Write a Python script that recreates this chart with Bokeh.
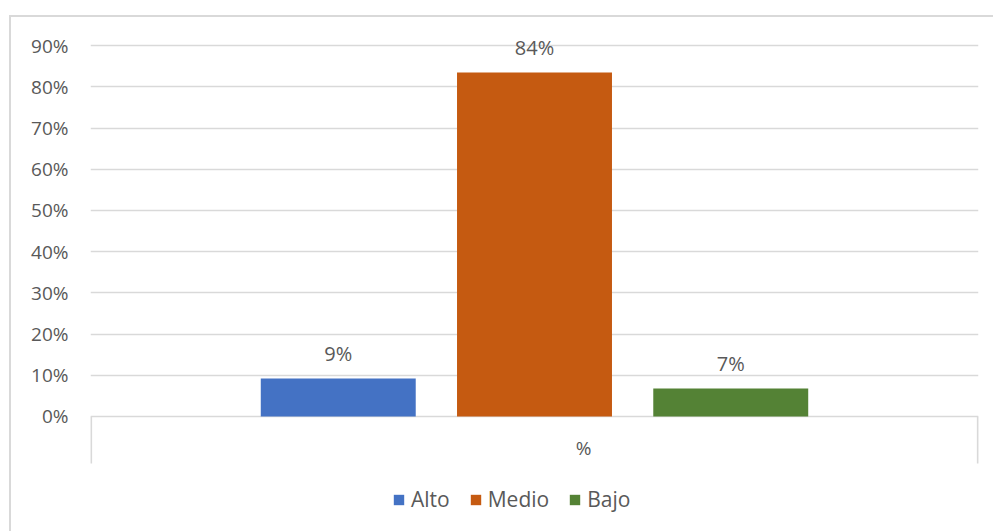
from bokeh.plotting import figure
from bokeh.models import FactorRange, Range1d, FixedTicker, ColumnDataSource, Legend, LegendItem
from bokeh.transform import dodge
from bokeh.core.properties import value
from bokeh.embed import file_html
from bokeh.resources import INLINE

# ---- data ----
category = ["%"]
series = ["Alto", "Medio", "Bajo"]
values = [9.2, 83.5, 6.8]
value_labels = ["9%", "84%", "7%"]
y_ticks = [0, 10, 20, 30, 40, 50, 60, 70, 80, 90]
y_tick_labels = ["0%", "10%", "20%", "30%", "40%", "50%", "60%", "70%", "80%", "90%"]

# ---- style ----
colors = ["#4472C4", "#C55A11", "#548235"]
offsets = [-0.221, 0.0, 0.221]
bar_width = 0.1745
FONT = "Open Sans"
TEXT = "#595959"
GRID = "#d9d9d9"
AXIS_DEPTH = 11.4

p = figure(width=984, height=516,
           x_range=FactorRange(factors=category, range_padding=0),
           y_range=Range1d(-28.4, 96.1),
           output_backend="svg", toolbar_location=None,
           min_border_left=79, min_border_right=17,
           min_border_top=3, min_border_bottom=0)
p.styles = {"margin-left": "9px", "margin-top": "15px",
            "border-left": "2px solid #d9d9d9", "border-top": "2px solid #d9d9d9"}

renderers = []
for i, s in enumerate(series):
    src = ColumnDataSource(dict(x=category, top=[values[i]], label=[value_labels[i]]))
    r = p.vbar(x=dodge("x", offsets[i], range=p.x_range), top="top", width=bar_width,
               source=src, fill_color=colors[i], line_color=None)
    renderers.append(r)
    p.text(x=dodge("x", offsets[i], range=p.x_range), y="top", text="label", source=src,
           text_align="center", text_baseline="middle", y_offset=-25,
           text_font=value(FONT), text_font_size="20px", text_color=TEXT)

# category axis area: edge ticks and category label
edge_src = ColumnDataSource(dict(x=category))
for off in (-0.4993, 0.4993):
    p.segment(x0=dodge("x", off, range=p.x_range), x1=dodge("x", off, range=p.x_range),
              y0=0, y1=-AXIS_DEPTH, source=edge_src, line_color=GRID, line_width=2)
p.text(x="x", y=-7.64, text="x", source=edge_src, text_align="center", text_baseline="middle",
       x_offset=49,
       text_font=value(FONT), text_font_size="19px", text_color=TEXT)

p.xaxis.visible = False
p.xgrid.visible = False
p.ygrid.ticker = FixedTicker(ticks=y_ticks)
p.ygrid.grid_line_color = GRID
p.ygrid.grid_line_width = 1.5
p.yaxis.ticker = FixedTicker(ticks=y_ticks)
p.yaxis.major_label_overrides = dict(zip(y_ticks, y_tick_labels))
p.yaxis.axis_line_color = None
p.yaxis.major_tick_line_color = None
p.yaxis.minor_tick_line_color = None
p.yaxis.major_tick_out = 0
p.yaxis.major_label_standoff = 22
p.yaxis.major_label_text_font = FONT
p.yaxis.major_label_text_font_size = "19px"
p.yaxis.major_label_text_color = TEXT
p.outline_line_color = None

legend = Legend(items=[LegendItem(label=s, renderers=[r]) for s, r in zip(series, renderers)],
                orientation="horizontal", location=(302, 20))
legend.border_line_color = None
legend.background_fill_alpha = 0
legend.label_text_font = FONT
legend.label_text_font_size = "21px"
legend.label_text_color = TEXT
legend.glyph_width = 13
legend.glyph_height = 13
legend.spacing = 19
legend.label_standoff = 6
legend.padding = 0
legend.margin = 0
p.add_layout(legend)

open("out.html", "w").write(file_html(p, INLINE))
